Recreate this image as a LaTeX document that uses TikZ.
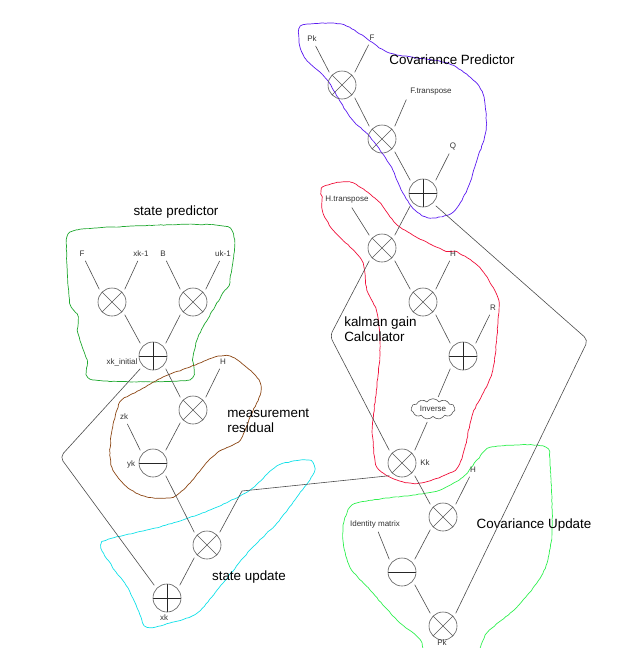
\documentclass[tikz,border=0pt]{standalone}
\usepackage{fontspec}
\setmainfont{Liberation Sans}
\usepackage{xcolor}
\usetikzlibrary{positioning}
\usetikzlibrary{shapes.symbols}
\usetikzlibrary{decorations.pathmorphing}

\definecolor{covblue}{HTML}{5B1AF0}
\definecolor{gainred}{HTML}{F0103A}
\definecolor{predgreen}{HTML}{20A830}
\definecolor{resbrown}{HTML}{8B4513}
\definecolor{updcyan}{HTML}{10E0E8}
\definecolor{covgreen}{HTML}{30F050}

\begin{document}
\begin{tikzpicture}[x=1pt, y=-1pt, line width=0.6pt,
    op/.style={circle, draw=black!65, minimum size=28pt, inner sep=0pt, outer sep=4pt},
    mul/.style={op, path picture={\path[draw, black!65] (path picture bounding box.north west) -- (path picture bounding box.south east) (path picture bounding box.north east) -- (path picture bounding box.south west);}},
    add/.style={op, path picture={\path[draw, black!85] (path picture bounding box.north) -- (path picture bounding box.south) (path picture bounding box.west) -- (path picture bounding box.east);}},
    sub/.style={op, path picture={\path[draw, black!85] (path picture bounding box.west) -- (path picture bounding box.east);}},
    lbl/.style={font=\fontsize{8}{9}\selectfont, text=black!80, inner sep=1pt, outer sep=3pt},
    title/.style={font=\fontsize{13.4}{15}\selectfont, align=left, inner sep=0pt},
    wire/.style={draw=black!70},
    blob/.style={line width=0.7pt, decorate, decoration={random steps, segment length=3pt, amplitude=0.35pt}}
  ]
    \pgfmathsetseed{11}
    \useasboundingbox (0, 0) rectangle (618, 648);

    \coordinate (gainbend) at (330, 336);
    \coordinate (covbend) at (588, 340);
    \coordinate (predbend) at (60, 457);
    \coordinate (gainjoin) at (242, 491);

    \path[draw=covblue, blob] plot[smooth cycle, tension=0.5] coordinates {(299,40) (305,58) (327,80) (350,117) (370,137) (390,165) (403,193) (415,210) (430,218) (453,212) (467,190) (477,160) (486,130) (484,97) (473,80) (447,63) (390,53) (362,35) (340,24) (303,25)};
    \path[draw=gainred, blob] plot[smooth cycle, tension=0.5] coordinates {(323,187) (350,182) (377,200) (400,227) (443,250) (457,252) (480,268) (498,298) (498,323) (492,373) (473,413) (465,447) (455,470) (420,483) (397,480) (377,467) (373,440) (373,420) (380,353) (377,313) (367,290) (363,263) (350,247) (333,230) (323,213) (322,200)};
    \path[draw=predgreen, blob] plot[smooth cycle, tension=0.4] coordinates {(67,237) (77,230) (113,227) (228,227) (230,280) (223,293) (203,327) (197,340) (193,357) (188,380) (93,380) (87,360) (78,333) (78,317) (70,303) (67,267)};
    \path[draw=resbrown, blob] plot[smooth cycle, tension=0.5] coordinates {(215,357) (232,357) (253,373) (260,383) (260,395) (250,417) (240,440) (217,453) (203,467) (190,483) (173,497) (147,497) (127,487) (113,470) (110,453) (112,430) (117,410) (122,400) (140,390) (163,377) (190,367)};
    \path[draw=updcyan, blob] plot[smooth cycle, tension=0.5] coordinates {(103,542) (160,527) (210,510) (250,490) (277,466) (308,460) (314,472) (297,497) (277,523) (250,550) (223,583) (197,613) (170,623) (147,627) (138,610) (128,588) (112,566)};
    \path[draw=covgreen, blob] plot[smooth cycle, tension=0.5] coordinates {(357,503) (413,495) (440,490) (463,477) (477,460) (492,447) (543,446) (550,465) (552,533) (543,573) (517,607) (487,633) (470,665) (430,665) (420,640) (397,620) (370,590) (350,567) (343,540) (345,518)};

    \node[mul] (C1) at (342, 85) {};
    \node[mul] (C2) at (382, 139) {};
    \node[add] (C3) at (423, 193) {};
    \node[mul] (K1) at (382, 248) {};
    \node[mul] (K2) at (423, 302) {};
    \node[add] (K3) at (463, 356) {};
    \node[cloud, draw=black!65, cloud puffs=11, cloud puff arc=110, aspect=2.6, minimum width=44pt, minimum height=17pt, inner sep=0pt, outer sep=3pt, lbl] (inv) at (433, 409) {Inverse};
    \node[mul] (Kk) at (402, 463) {};
    \node[mul] (U1) at (443, 517) {};
    \node[sub] (U2) at (402, 572) {};
    \node[mul] (U3) at (443, 626) {};
    \node[mul] (P1) at (112, 302) {};
    \node[mul] (P2) at (193, 302) {};
    \node[add] (P3) at (153, 356) {};
    \node[mul] (M1) at (193, 410) {};
    \node[sub] (M2) at (153, 463) {};
    \node[mul] (S1) at (207, 545) {};
    \node[add] (S2) at (167, 598) {};

    \node[lbl] (lPk) at (312, 39) {Pk};
    \node[lbl] (lF) at (372, 38) {F};
    \node[lbl] (lFt) at (431, 92) {F.transpose};
    \node[lbl] (lQ) at (453, 146) {Q};
    \node[lbl] (lHt) at (347, 200) {H.transpose};
    \node[lbl] (lHk) at (453, 254) {H};
    \node[lbl] (lR) at (493, 308) {R};
    \node[lbl] (lKk) at (425, 463) {Kk};
    \node[lbl] (lHu) at (473, 470) {H};
    \node[lbl] (lId) at (375, 524) {Identity matrix};
    \node[lbl, inner sep=0pt] (lPu) at (442, 643) {Pk};
    \node[lbl] (lFp) at (82, 254) {F};
    \node[lbl] (lxprev) at (141, 254) {xk-1};
    \node[lbl] (lB) at (163, 254) {B};
    \node[lbl] (luprev) at (223, 254) {uk-1};
    \node[lbl] (lxinit) at (122, 362) {xk\_initial};
    \node[lbl] (lHm) at (223, 362) {H};
    \node[lbl] (lzk) at (124, 417) {zk};
    \node[lbl] (lyk) at (131, 464) {yk};
    \node[lbl] (lxk) at (164, 618) {xk};

    \node[title] (tcov) at (452, 60) {Covariance Predictor};
    \node[title, anchor=west] (tgain) at (344, 329) {kalman gain\\Calculator};
    \node[title] (tpred) at (176, 212) {state predictor};
    \node[title, anchor=west] (tres) at (227, 421) {measurement\\residual};
    \node[title] (tupd) at (249, 577) {state update};
    \node[title] (tcovu) at (534, 525) {Covariance Update};

    \path[wire] (lPk) -- (C1.north west);
    \path[wire] (lF) -- (C1.north east);
    \path[wire] (C1.south east) -- (C2.north west);
    \path[wire] (lFt.south west) -- (C2.north east);
    \path[wire] (C2.south east) -- (C3.north west);
    \path[wire] (lQ) -- (C3.north east);

    \path[wire] (lHt) -- (K1.north west);
    \path[wire] (C3.south west) -- (K1.north east);
    \path[wire] (K1.south east) -- (K2.north west);
    \path[wire] (lHk) -- (K2.north east);
    \path[wire] (K2.south east) -- (K3.north west);
    \path[wire] (lR) -- (K3.north east);
    \path[wire] (K3.south west) -- (inv);
    \path[wire] (inv) -- (Kk.north east);
    \path[wire, rounded corners=5pt] (K1.south west) -- (gainbend) -- (Kk.north west);
    \path[wire, rounded corners=5pt] (C3.south east) -- (covbend) -- (U3.north east);

    \path[wire] (Kk.south east) -- (U1.north west);
    \path[wire] (lHu) -- (U1.north east);
    \path[wire] (U1.south west) -- (U2.north east);
    \path[wire] (lId) -- (U2.north west);
    \path[wire] (U2.south east) -- (U3.north west);

    \path[wire] (lFp) -- (P1.north west);
    \path[wire] (lxprev) -- (P1.north east);
    \path[wire] (lB) -- (P2.north west);
    \path[wire] (luprev) -- (P2.north east);
    \path[wire] (P1.south east) -- (P3.north west);
    \path[wire] (P2.south west) -- (P3.north east);

    \path[wire] (P3.south east) -- (M1.north west);
    \path[wire] (lHm) -- (M1.north east);
    \path[wire] (M1.south west) -- (M2.north east);
    \path[wire] (lzk) -- (M2.north west);
    \path[wire] (M2.south east) -- (S1.north west);
    \path[wire] (Kk.south west) -- (gainjoin) -- (S1.north east);
    \path[wire] (S1.south west) -- (S2.north east);
    \path[wire, rounded corners=5pt] (P3.south west) -- (predbend) -- (S2.north west);
  \end{tikzpicture}
\end{document}
